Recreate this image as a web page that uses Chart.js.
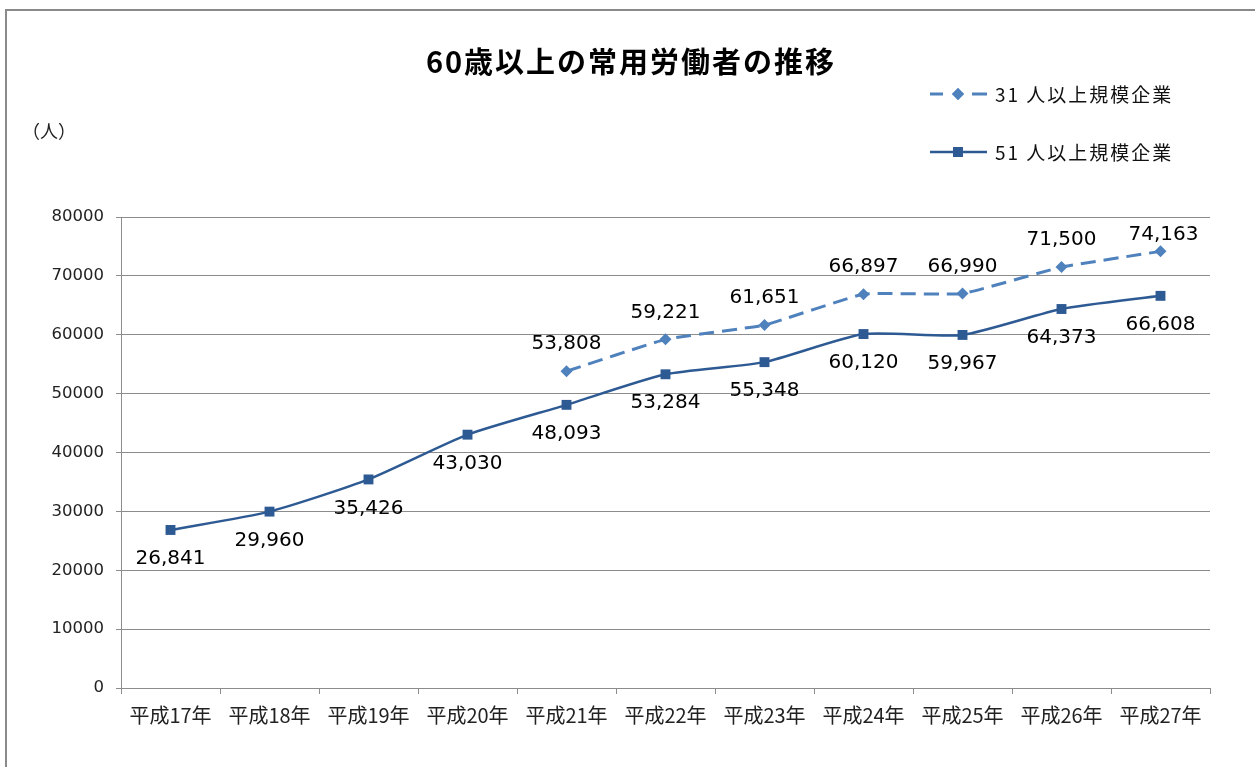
<!DOCTYPE html>
<html><head><meta charset="utf-8">
<script src="https://cdn.jsdelivr.net/npm/chart.js@4/dist/chart.umd.min.js"></script>
<style>html,body{margin:0;padding:0;background:#fff;}canvas{display:block;}</style>
</head><body>
<canvas id="c" width="1255" height="767"></canvas>
<script>
const categories = ['平成17年','平成18年','平成19年','平成20年','平成21年','平成22年','平成23年','平成24年','平成25年','平成26年','平成27年'];
const series31Name = '31 人以上規模企業';
const series51Name = '51 人以上規模企業';
const series31 = [null, null, null, null, 53808, 59221, 61651, 66897, 66990, 71500, 74163];
const series51 = [26841, 29960, 35426, 43030, 48093, 53284, 55348, 60120, 59967, 64373, 66608];
const yTicks = [0, 10000, 20000, 30000, 40000, 50000, 60000, 70000, 80000];
const titleText = '60歳以上の常用労働者の推移';
const unitText = '（人）';

const LIGHT = '#4F81BD';
const DARK = '#2E5A94';
const GRID = '#8c8c8c';
const CJK = '"Noto Sans CJK JP", "Noto Sans", sans-serif';

const decor = {
  id: 'decor',
  beforeDraw(chart) {
    const ctx = chart.ctx;
    ctx.save();
    ctx.fillStyle = '#fff';
    ctx.fillRect(0, 0, chart.width, chart.height);
    ctx.strokeStyle = '#8a8a8a';
    ctx.lineWidth = 2;
    ctx.beginPath();
    ctx.moveTo(6, 767); ctx.lineTo(6, 10); ctx.lineTo(1255, 10);
    ctx.stroke();
    ctx.restore();
  },
  afterDraw(chart) {
    const ctx = chart.ctx;
    ctx.save();
    // title
    ctx.fillStyle = '#000';
    ctx.font = 'bold 29px ' + CJK;
    ctx.letterSpacing = '2px';
    ctx.textAlign = 'center';
    ctx.textBaseline = 'middle';
    ctx.fillText(titleText, 631, 62);
    // unit
    ctx.letterSpacing = '0px';
    ctx.font = '18px ' + CJK;
    ctx.fillStyle = '#222';
    ctx.textAlign = 'left';
    ctx.fillText(unitText, 22, 131);
    // legend
    const items = [
      {ds: chart.data.datasets[0], y: 94},
      {ds: chart.data.datasets[1], y: 152}
    ];
    items.forEach(it => {
      const ds = it.ds;
      ctx.strokeStyle = ds.borderColor;
      ctx.lineWidth = ds.borderWidth;
      ctx.beginPath();
      if (ds.borderDash) {
        ctx.moveTo(930, it.y); ctx.lineTo(943, it.y);
        ctx.moveTo(972, it.y); ctx.lineTo(987, it.y);
      } else {
        ctx.moveTo(930, it.y); ctx.lineTo(987, it.y);
      }
      ctx.stroke();
      ctx.fillStyle = ds.pointBackgroundColor;
      Chart.helpers.drawPoint(ctx, {pointStyle: ds.pointStyle, radius: ds.pointRadius, rotation: 0, borderWidth: 0}, 958, it.y);
      ctx.fill();
      ctx.fillStyle = '#111';
      ctx.font = '19px ' + CJK;
      ctx.letterSpacing = '2px';
      ctx.textAlign = 'left';
      ctx.textBaseline = 'middle';
      ctx.fillText(ds.label, 995, it.y + 1);
      ctx.letterSpacing = '0px';
    });
    // data labels
    const opts = chart.options.plugins.decor;
    ctx.font = '20px "DejaVu Sans", sans-serif';
    ctx.fillStyle = '#000';
    ctx.textAlign = 'center';
    ctx.textBaseline = 'middle';
    chart.data.datasets.forEach((ds, di) => {
      const meta = chart.getDatasetMeta(di);
      meta.data.forEach((pt, i) => {
        const v = ds.data[i];
        if (v === null || v === undefined) return;
        let dx = 0, dy = opts.dy[di];
        const ov = opts.overrides[di + ':' + i];
        if (ov) { dx = ov[0]; dy = ov[1]; }
        ctx.fillText(v.toLocaleString('en-US'), pt.x + dx, pt.y + dy);
      });
    });
    ctx.restore();
  }
};

new Chart(document.getElementById('c'), {
  type: 'line',
  data: {
    labels: categories,
    datasets: [
      {
        label: series31Name, data: series31,
        borderColor: LIGHT, backgroundColor: LIGHT,
        pointBackgroundColor: LIGHT, pointBorderColor: LIGHT,
        borderWidth: 3, borderDash: [15, 8],
        pointStyle: 'rectRot', pointRadius: 6, pointBorderWidth: 0,
        tension: 0.1, spanGaps: false
      },
      {
        label: series51Name, data: series51,
        borderColor: DARK, backgroundColor: DARK,
        pointBackgroundColor: DARK, pointBorderColor: DARK,
        borderWidth: 2.5,
        pointStyle: 'rect', pointRadius: 7, pointBorderWidth: 0,
        tension: 0.2
      }
    ]
  },
  options: {
    responsive: false,
    devicePixelRatio: 1,
    animation: false,
    layout: {padding: {left: 0, right: 45, top: 217, bottom: 0}},
    plugins: {
      legend: {display: false},
      title: {display: false},
      tooltip: {enabled: false},
      decor: {dy: [-27, 29], overrides: {'0:10': [3, -17]}}
    },
    scales: {
      x: {
        offset: true,
        grid: {offset: true, drawOnChartArea: false, drawTicks: true, tickLength: 6, color: GRID},
        border: {color: GRID, width: 1},
        ticks: {color: '#222', font: {family: CJK, size: 20}, padding: 9, maxRotation: 0, autoSkip: false},
        afterFit(s) { s.height = 79; }
      },
      y: {
        min: 0, max: 80000,
        afterBuildTicks(s) { s.ticks = yTicks.map(v => ({value: v})); },
        grid: {color: GRID, tickLength: 5, drawTicks: true},
        border: {color: GRID, width: 1},
        ticks: {color: '#222', font: {family: '"DejaVu Sans", sans-serif', size: 16.5}, padding: 12,
          callback: v => String(v)},
        afterFit(s) { s.width = 121; }
      }
    }
  },
  plugins: [decor]
});
</script>
</body></html>
